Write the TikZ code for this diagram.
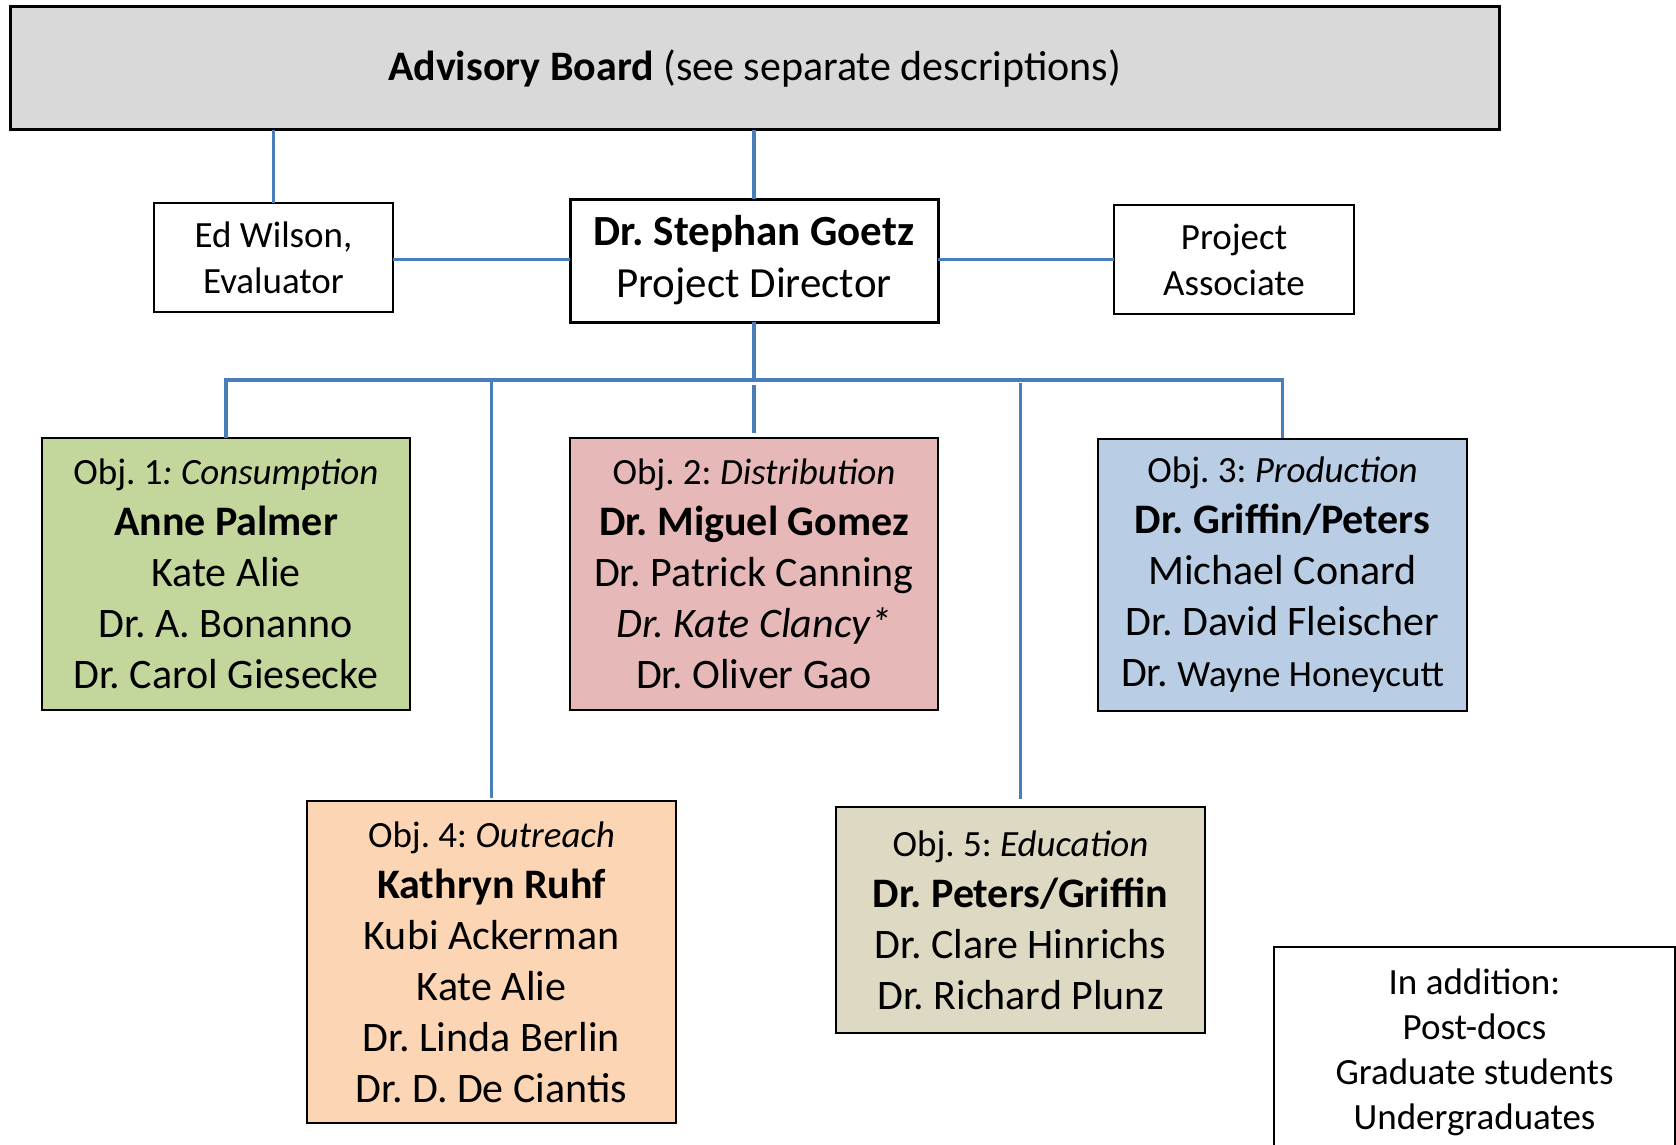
\documentclass[tikz,border=0pt]{standalone}
\usepackage{fontspec}
\setmainfont{Carlito}
\frenchspacing
\definecolor{boardgray}{HTML}{D9D9D9}
\definecolor{objgreen}{HTML}{C3D69B}
\definecolor{objred}{HTML}{E6B9B8}
\definecolor{objblue}{HTML}{B9CDE5}
\definecolor{objorange}{HTML}{FCD5B5}
\definecolor{objtan}{HTML}{DDD9C3}
\definecolor{connblue}{HTML}{4A7EBB}
\newcommand\setfs[2]{\fontsize{#1}{#2}\selectfont}
\begin{document}
\begin{tikzpicture}[x=1pt,y=-1pt,
  box/.style={draw=black,line width=2pt,inner sep=0pt,outer sep=0pt,align=center,font=\frenchspacing\setfs{42}{51}},
  smallbox/.style={box,font=\frenchspacing\setfs{37}{46}},
  conn/.style={draw=connblue,line width=3.5pt}]
\useasboundingbox (0,0) rectangle (1676,1145);
\fill[white] (0,0) rectangle (1676,1145);

\node[box,line width=3pt,fill=boardgray,minimum width=1489pt,minimum height=123pt] (adv) at (754.5,68.5)
  {\textbf{Advisory Board} (see separate descriptions)};
\node[smallbox,minimum width=239pt,minimum height=109pt] (ed) at (273.5,257.5) {Ed Wilson,\\Evaluator};
\node[box,line width=3pt,font=\frenchspacing\setfs{43}{52},minimum width=368pt,minimum height=123pt] (dir) at (754,260.5)
  {\textbf{Dr. Stephan Goetz}\\Project Director};
\node[smallbox,minimum width=240pt,minimum height=109pt] (pa) at (1234,259.5) {Project\\Associate};

\node[box,fill=objgreen,minimum width=368pt,minimum height=272pt] (o1) at (226,574)
  {{\setfs{37}{51}Obj. 1\textit{: Consumption}}\\\textbf{Anne Palmer}\\Kate Alie\\Dr. A. Bonanno\\Dr. Carol Giesecke};
\node[box,fill=objred,minimum width=368pt,minimum height=272pt] (o2) at (754,574)
  {{\setfs{37}{51}Obj. 2: \textit{Distribution}}\\\textbf{Dr. Miguel Gomez}\\Dr. Patrick Canning\\\textit{Dr. Kate Clancy*}\\Dr. Oliver Gao};
\node[box,fill=objblue,minimum width=369pt,minimum height=272pt] (o3) at (1282.5,575)
  {{\setfs{37}{51}Obj. 3: \textit{Production}}\\\textbf{Dr. Griffin/Peters}\\Michael Conard\\Dr. David Fleischer\\Dr. {\setfs{37}{51}Wayne Honeycutt}};
\node[box,fill=objorange,minimum width=369pt,minimum height=322pt] (o4) at (491.5,962)
  {{\setfs{37}{51}Obj. 4: \textit{Outreach}}\\\textbf{Kathryn Ruhf}\\Kubi Ackerman\\Kate Alie\\Dr. Linda Berlin\\Dr. D. De Ciantis};
\node[box,fill=objtan,minimum width=369pt,minimum height=226pt] (o5) at (1020.5,920)
  {{\setfs{37}{51}Obj. 5: \textit{Education}}\\\textbf{Dr. Peters/Griffin}\\Dr. Clare Hinrichs\\Dr. Richard Plunz};
\node[smallbox,font=\frenchspacing\setfs{37}{45},minimum width=401pt,minimum height=210pt] (add) at (1474.5,1052)
  {In addition:\\Post-docs\\Graduate students\\Undergraduates};

\coordinate (bus) at (754,380);
\draw[conn] (adv.south -| ed.north) -- (ed.north);
\draw[conn] (adv.south -| dir.north) -- (dir.north);
\draw[conn] ([yshift=-2pt]ed.east) -- ([yshift=-2pt]ed.east -| dir.west);
\draw[conn] (pa.west) -- (pa.west -| dir.east);
\draw[conn] (dir.south) -- (dir.south |- bus);
\draw[conn] (o1.north) -- (o1.north |- bus) -- (o3.north |- bus) -- ([yshift=1pt]o3.north);
\draw[conn] ([yshift=5pt]o2.north) -- ([yshift=53pt]o2.north);
\draw[conn] (o4.north |- bus) -- ([yshift=3pt]o4.north);
\draw[conn] ([yshift=-3pt]o5.north |- bus) -- ([yshift=8pt]o5.north);
\end{tikzpicture}
\end{document}
